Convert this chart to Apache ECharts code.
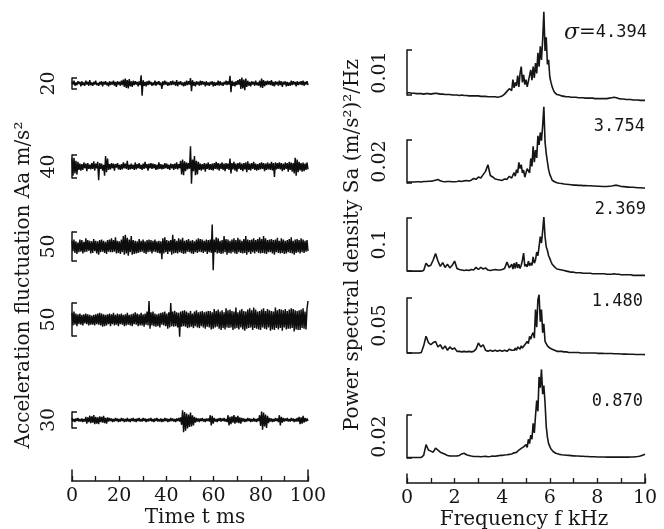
<!DOCTYPE html>
<html><head><meta charset="utf-8">
<script src="https://cdn.jsdelivr.net/npm/echarts@6/dist/echarts.min.js"></script>
<style>html,body{margin:0;padding:0;background:#fff}#c{width:664px;height:529px}</style>
</head><body><div id="c"></div>
<script>
// ---- Left: acceleration fluctuation traces (m/s^2), 240 samples over 0..100 ms ----
const acc1=[3,-2,5,-4,2,-3,4,-1,3,-5,
4,-3,2,-4,5,-2,3,-4,6,-3,
2,-4,3,-2,5,-3,1,-4,3,-2,
4,-5,3,-2,4,-3,2,-5,4,-3,
3,-2,5,-4,3,-6,4,-2,3,-4,
5,-3,7,-6,9,-8,6,-9,8,-5,
4,-6,5,-3,4,-2,3,-5,4,-3,
15,-22,6,-4,3,-5,4,-3,5,-2,
3,-4,2,-3,5,-4,3,-2,4,-3,
2,-10,4,-3,5,-2,3,-4,2,-3,
4,-3,5,-2,3,-4,6,-5,3,-2,
4,-3,2,-5,3,-4,5,-3,4,-2,
10,-14,6,-4,3,-5,4,-2,3,-4,
5,-3,4,-2,3,-5,4,-3,2,-4,
3,-2,4,-5,3,-4,2,-3,5,-4,
4,-3,2,-4,3,-2,5,-3,4,-2,
14,-16,5,-4,3,-5,4,-3,6,-2,
8,-10,11,-9,7,-12,9,-6,5,-4,
3,-5,4,-2,3,-4,5,-3,2,-4,
5,-7,9,-8,6,-5,4,-3,5,-2,
4,-3,6,-4,3,-5,4,-2,3,-4,
5,-3,4,-6,3,-2,4,-5,3,-4,
2,-4,5,-3,4,-2,3,-5,4,-3,
3,-2,4,-3,5,-4,3,-2,4,-3];
const acc2=[14,-16,15,-12,10,-14,8,-6,5,-7,
4,-6,7,-3,5,-8,6,-4,3,-5,
6,-4,9,-7,5,-3,8,-24,6,-4,
5,-7,3,-16,18,-10,14,-6,4,-5,
6,-3,5,-7,4,-2,6,-5,3,-6,
4,-5,7,-3,5,-4,10,-6,3,-5,
5,-4,3,-6,7,-5,4,-3,6,-4,
3,-6,5,-4,8,-3,4,-7,5,-3,
6,-4,5,-3,4,-6,3,-5,7,-4,
4,-5,3,-4,6,-3,5,-4,3,-6,
5,-3,4,-6,5,-4,7,-5,4,-3,
10,-14,12,-15,9,-8,7,-5,6,-4,
35,-30,12,-8,18,-15,10,-14,8,-6,
5,-7,4,-5,6,-9,5,-4,7,-6,
4,-6,5,-7,6,-4,8,-5,6,-7,
5,-4,7,-6,5,-8,6,-4,5,-6,
14,-12,6,-5,8,-7,5,-9,6,-4,
7,-6,5,-8,6,-5,7,-10,9,-6,
5,-7,6,-4,8,-6,5,-7,4,-6,
6,-5,7,-4,6,-8,5,-6,7,-5,
5,-6,8,-7,6,-18,7,-5,6,-4,
7,-5,6,-8,5,-6,7,-4,6,-9,
8,-6,7,-9,6,-12,15,-16,12,-10,
8,-7,6,-9,7,-8,5,-6,7,-5];
const acc3=[10,-8,12,-11,9,-13,7,-10,12,-9,
11,-12,8,-10,14,-9,11,-7,10,-12,
9,-11,13,-8,10,-12,9,-14,11,-10,
12,-9,10,-11,8,-13,11,-9,12,-10,
14,-10,11,-9,16,-12,10,-11,9,-13,
12,-10,18,-14,20,-12,15,-16,12,-10,
18,-14,11,-13,10,-12,9,-11,13,-10,
10,-9,12,-11,9,-13,11,-10,12,-9,
11,-12,10,-9,12,-10,9,-11,10,-12,
9,-22,14,-12,16,-10,11,-13,10,-9,
11,-14,20,-12,13,-11,10,-12,14,-10,
12,-11,15,-13,10,-12,11,-9,13,-10,
10,-12,11,-13,9,-10,12,-11,14,-9,
13,-10,12,-11,10,-9,12,-13,11,-10,
12,-11,38,-41,12,-10,16,-12,14,-11,
10,-13,11,-12,18,-10,13,-14,12,-11,
10,-12,12,-10,14,-12,11,-13,15,-10,
12,-11,10,-12,13,-11,18,-14,12,-10,
11,-13,12,-10,14,-12,11,-9,13,-11,
16,-12,13,-11,18,-12,14,-13,11,-10,
12,-10,13,-12,11,-14,12,-10,15,-11,
10,-12,14,-11,12,-13,10,-12,11,-10,
13,-11,16,-12,10,-14,12,-11,13,-10,
11,-12,14,-10,12,-11,10,-9,11,-8];
const acc4=[10,-9,12,-8,9,-10,8,-7,9,-8,
7,-9,8,-6,9,-7,8,-9,7,-8,
6,-8,7,-9,8,-7,9,-8,10,-9,
9,-11,8,-10,7,-9,8,-7,9,-10,
8,-7,10,-9,7,-8,9,-10,8,-7,
9,-8,7,-10,8,-9,10,-8,7,-9,
8,-10,9,-7,11,-8,9,-10,8,-9,
10,-9,8,-11,9,-8,12,-9,28,-14,
11,-9,12,-10,9,-11,8,-10,9,-12,
10,-8,11,-9,12,-10,9,-14,11,-12,
25,-10,12,-11,13,-10,11,-12,10,-26,
12,-11,13,-10,14,-11,12,-13,10,-12,
13,-11,9,-13,12,-10,14,-12,11,-13,
12,-10,13,-12,11,-14,12,-11,13,-12,
13,-15,11,-14,16,-12,13,-11,15,-14,
12,-16,14,-13,11,-15,17,-12,14,-13,
15,-12,13,-16,12,-14,18,-13,11,-15,
14,-12,16,-15,13,-17,12,-14,15,-13,
17,-12,14,-16,18,-13,15,-14,12,-15,
13,-16,15,-12,17,-14,13,-15,16,-12,
14,-17,13,-15,12,-16,18,-13,14,-15,
16,-13,15,-17,14,-12,16,-15,13,-14,
15,-14,17,-13,16,-18,14,-15,13,-16,
14,-16,15,-13,17,-14,12,-15,16,28];
const acc5=[4,-3,2,-4,3,-2,4,-3,2,-3,
3,-4,2,-3,6,-7,5,-4,8,-6,
7,-5,9,-8,6,-7,5,-8,7,-4,
6,-5,8,-6,4,-7,5,-3,4,-2,
3,-4,2,-3,4,-2,3,-4,2,-3,
4,-2,3,-4,2,-3,4,-3,2,-4,
3,-2,4,-3,2,-4,3,-2,4,-3,
2,-3,4,-2,3,-4,2,-3,3,-2,
4,-3,2,-4,3,-2,4,-3,2,-3,
3,-4,2,-3,4,-2,3,-4,2,-3,
4,-2,3,-3,2,-4,3,-2,4,-3,
5,-9,18,-23,15,-20,12,-16,10,-13,
14,-12,9,-10,6,-5,4,-3,3,-4,
3,-2,4,-3,2,-4,3,-2,3,-3,
9,-10,8,-7,4,-3,2,-4,3,-2,
4,-3,3,-2,4,-3,2,-4,9,-10,
6,-8,7,-5,9,-7,6,-5,8,-6,
5,-7,4,-3,3,-4,2,-3,4,-2,
3,-4,2,-3,4,-3,2,-4,3,-2,
9,-11,16,-18,14,-12,10,-15,8,-6,
4,-3,3,-4,2,-3,4,-2,3,-4,
9,-10,6,-5,4,-3,3,-2,4,-3,
2,-3,4,-2,3,-4,2,-3,4,-3,
6,-8,5,-7,8,-5,4,-3,3,-2];
const accScaleValues=[20,40,50,50,30];
const accScaleLabels=['20','40','50','50','30'];
const timeTickLabels=[0,20,40,60,80,100];

// ---- Right: power spectral density, in 10^-3 (m/s^2)^2/Hz ----
const freqKHz=[0,0.1,0.2,0.3,0.4,0.5,0.6,0.7,0.8,0.9,
1,1.1,1.2,1.3,1.4,1.5,1.6,1.7,1.8,1.9,
2,2.1,2.2,2.3,2.4,2.5,2.6,2.7,2.8,2.9,
3,3.1,3.2,3.3,3.4,3.5,3.6,3.7,3.8,3.9,
4,4.1,4.2,4.3,4.4,
4.45,4.5,4.55,4.6,4.65,4.7,4.75,4.8,4.85,4.9,
4.95,5,5.05,5.1,5.15,5.2,5.25,5.3,5.35,5.4,
5.45,5.5,5.55,5.6,5.65,5.7,5.75,5.8,5.85,5.9,
5.95,6,6.05,6.1,6.15,6.2,6.25,6.3,
6.4,6.5,6.6,6.7,6.8,6.9,7,7.1,7.2,7.3,
7.4,7.5,7.6,7.7,7.8,7.9,8,8.1,8.2,8.3,
8.4,8.5,8.6,8.7,8.8,8.9,9,9.1,9.2,9.3,
9.4,9.5,9.6,9.7,9.8,9.9,10];
const psd1=[1.7,1.7,1.6,1.6,1.5,1.5,1.5,1.4,1.5,1.5,
1.4,1.5,1.6,1.5,1.4,1.4,1.3,1.3,1.3,1.2,
1.2,1.2,1.1,1.2,1.1,1.1,1.0,1.0,1.0,1.0,
1.0,0.9,0.9,0.9,0.8,0.8,0.8,0.8,0.7,0.8,
1.0,1.4,2.0,2.6,2.2,
4.6,2.8,4.0,3.2,5.5,3.0,6.0,7.5,4.0,5.7,
3.5,4.6,3.0,3.4,5.5,6.8,4.5,7.5,5.0,8.3,
6.0,10.6,7.5,12.0,9.0,13.4,19.7,11.0,14.0,8.0,
9.0,5.2,4.0,3.0,2.3,1.8,1.5,1.3,
1.2,1.0,0.9,0.8,0.8,0.7,0.7,0.7,0.6,0.6,
0.6,0.5,0.5,0.5,0.5,0.4,0.4,0.4,0.4,0.4,
0.4,0.5,0.6,0.7,0.6,0.4,0.3,0.3,0.2,0.2,
0.2,0.1,0.1,0.1,0.0,0.0,0.0];
const psd2=[2.6,2.7,2.8,2.8,2.9,2.9,2.8,3.0,3.0,3.1,
3.1,3.3,3.6,3.9,3.3,3.0,2.9,3.0,3.0,2.9,
2.9,3.0,3.2,3.0,3.3,3.5,3.2,3.6,4.4,4.0,
5.1,4.6,6.2,7.7,10.8,5.8,5.1,4.2,3.9,3.7,
3.5,4.2,4.0,5.4,4.6,
6.0,7.1,5.5,8.5,7.0,11.9,9.0,10.8,7.0,8.3,
5.0,5.4,9.0,9.9,7.0,13.7,10.0,19.4,12.0,17.6,
14.0,24.2,20.0,25.8,22.0,28.9,37.7,21.4,16.0,12.1,
8.5,6.3,5.0,3.6,3.2,2.9,2.6,2.4,
2.2,2.1,1.8,1.7,1.6,1.5,1.3,1.3,1.2,1.2,
1.1,1.1,1.0,1.0,0.9,0.9,0.8,0.8,0.7,0.7,
0.7,0.8,0.9,1.1,1.3,1.0,0.7,0.6,0.5,0.4,
0.3,0.3,0.2,0.1,0.1,0.0,0.0];
const psd3=[9,9,9,9,9,9,9,10,24,18,
20,30,42,28,18,25,16,22,15,20,
28,14,12,11,10,11,10,12,11,16,
12,16,13,15,11,10,11,12,11,11,
12,14,26,15,22,
13,24,14,26,15,22,14,20,30,43,
18,22,17,28,19,24,20,36,24,30,
45,38,55,74,62,85,111,74,55,48,
38,33,27,22,20,17,15,13,
12,11,10,9,8,7,7,6,6,6,
5,5,5,5,4,4,4,4,4,4,
3,3,3,4,3,3,2,2,2,2,
2,1,1,1,1,1,1];
const psd4=[1.5,1.5,1.5,1.5,1.5,1.5,2,8,16.7,11,
9,11,12,7,9,5,8,4,7,5,
6,3,3,2.5,3,2.5,3,2.5,3,5,
10.6,7,9,4,3,4,3,4,3,4,
3,4,3,5,4,
5,4,6,4,7,8,5,8,6,7,
9,8,12,10,16.7,14,18,20,15,41,
25,50,54.5,30,41,20,28,12,10,8,
7,6,5,5,4,4,3.5,3,
3,3,2.5,2.5,2,2,2,2,2,1.5,
1.5,1.5,1.5,1.5,1.5,1.5,1.2,1.2,1.2,1.0,
1,1,1,0.8,0.8,0.8,0.6,0.5,0.5,0.4,
0.3,0.3,0.2,0.2,0.1,0.1,0];
const psd5=[0.5,0.5,0.5,0.5,0.5,0.5,0.6,1.5,6.5,4.0,
3.5,3.0,4.9,4.0,3.0,2.5,2.0,1.5,1.3,1.2,
1.2,1.3,1.5,2.2,2.5,1.8,1.5,1.2,1.0,1.0,
1.0,0.9,1.0,1.1,0.9,1.0,1.2,1.1,1.3,1.5,
1.5,1.7,1.8,2.0,2.2,
2.5,2.7,3.2,2.9,3.6,4.0,3.6,4.8,4.2,5.5,
4.8,6.5,5.2,9.0,7.0,11.0,9.0,16.4,12.0,20.0,
27.0,22.0,38.0,33.0,41.5,30.0,34.0,26.0,15.0,10.0,
7.0,5.7,4.5,3.8,3.2,2.8,2.5,2.2,
2.0,1.8,1.7,1.6,1.5,1.4,1.3,1.2,1.2,1.1,
1.1,1.0,1.0,0.9,0.9,0.9,0.8,0.8,0.8,0.8,
0.7,0.7,0.7,0.7,0.7,0.7,0.7,0.7,0.7,0.7,
0.8,0.8,0.9,1.0,1.2,1.6,2.0];
// scale bars of the spectra (bottom of bar, length of bar), in 10^-3 units
const psdBarBase=[1.2,2.3,9.2,1.5,0.3];
const psdBarLength=[10,20,100,50,20];
const psdScaleLabels=['0.01','0.02','0.1','0.05','0.02'];
const sigmaValues=['4.394','3.754','2.369','1.480','0.870'];
const freqTickLabels=[0,2,4,6,8,10];

// ---- layout ----
const INK='#161616';
const leftBoxes=[{top:78,h:11},{top:155,h:23},{top:232,h:29},{top:303,h:33},{top:412,h:16}];
const rightBoxes=[{top:50,h:45},{top:140,h:43},{top:218,h:53},{top:298,h:55},{top:415,h:43}];
const sigmaPos=[{x:647,y:33},{x:645,y:127},{x:646,y:210},{x:643,y:302},{x:643,y:402}];

const timeMs=acc1.map((_,i)=>i*100/(acc1.length-1));
const accData=[acc1,acc2,acc3,acc4,acc5];
const psdData=[psd1,psd2,psd3,psd4,psd5];

const grids=[],xAxes=[],yAxes=[],series=[];
const barLabelStyle={fontFamily:'DejaVu Serif',fontSize:19,color:INK};

function bracketAxis(gi,min,max,offset,label){
  return {gridIndex:gi,type:'value',min:min,max:max,offset:offset,
    axisLine:{show:true,lineStyle:{color:INK,width:1.5}},
    axisTick:{show:true,inside:true,length:5,customValues:[min,max],lineStyle:{color:INK,width:1.5}},
    axisLabel:{show:false},splitLine:{show:false},
    name:label,nameLocation:'middle',nameRotate:90,nameGap:3,nameTextStyle:barLabelStyle};
}

accData.forEach((d,k)=>{
  grids.push({left:72,width:236,top:leftBoxes[k].top,height:leftBoxes[k].h});
  const gi=grids.length-1;
  xAxes.push({gridIndex:gi,type:'value',min:0,max:100,show:false});
  const half=accScaleValues[k]/2;
  yAxes.push(bracketAxis(gi,-half,half,10,accScaleLabels[k]));
  series.push({type:'line',xAxisIndex:xAxes.length-1,yAxisIndex:yAxes.length-1,
    data:timeMs.map((t,i)=>[t,d[i]]),symbol:'none',showSymbol:false,clip:false,
    lineStyle:{color:'#0d0d0d',width:1.45},animation:false});
});

psdData.forEach((d,k)=>{
  grids.push({left:407,width:238,top:rightBoxes[k].top,height:rightBoxes[k].h});
  const gi=grids.length-1;
  xAxes.push({gridIndex:gi,type:'value',min:0,max:10,show:false});
  yAxes.push(bracketAxis(gi,psdBarBase[k],psdBarBase[k]+psdBarLength[k],14,psdScaleLabels[k]));
  series.push({type:'line',xAxisIndex:xAxes.length-1,yAxisIndex:yAxes.length-1,
    data:freqKHz.map((f,i)=>[f,d[i]]),symbol:'none',showSymbol:false,clip:false,
    lineStyle:{color:INK,width:1.6},animation:false});
});

function bottomAxis(left,width,top,height,max,interval,labels){
  grids.push({left:left,width:width,top:top,height:height});
  const gi=grids.length-1;
  xAxes.push({gridIndex:gi,type:'value',min:0,max:max,interval:interval,
    axisLine:{show:true,onZero:false,lineStyle:{color:INK,width:1.5}},
    axisTick:{show:true,inside:true,length:5,lineStyle:{color:INK,width:1.3}},
    axisLabel:{margin:6,fontFamily:'DejaVu Serif',fontSize:19,color:INK,
      formatter:v=>labels.indexOf(v)>=0?String(v):''},
    splitLine:{show:false}});
  ['left','right'].forEach(p=>yAxes.push({gridIndex:gi,type:'value',min:0,max:1,position:p,
    axisLine:{show:true,lineStyle:{color:INK,width:1.5}},axisTick:{show:false},
    axisLabel:{show:false},splitLine:{show:false}}));
}
bottomAxis(72,236,470,11,100,10,timeTickLabels);
bottomAxis(407,238,474,9,10,1,freqTickLabels);

const titleFont='20px "DejaVu Serif"';
const graphic=[
  {type:'text',x:24,y:285,rotation:Math.PI/2,style:{text:'Acceleration fluctuation Aa m/s²',x:0,y:0,align:'center',verticalAlign:'middle',font:titleFont,fill:INK}},
  {type:'text',x:353,y:245,rotation:Math.PI/2,style:{text:'Power spectral density Sa (m/s²)²/Hz',x:0,y:0,align:'center',verticalAlign:'middle',font:titleFont,fill:INK}},
  {type:'text',x:195,y:518,style:{text:'Time t ms',x:0,y:0,align:'center',verticalAlign:'middle',font:titleFont,fill:INK}},
  {type:'text',x:524,y:520,style:{text:'Frequency f kHz',x:0,y:0,align:'center',verticalAlign:'middle',font:titleFont,fill:INK}}
];
sigmaValues.forEach((s,k)=>{
  const txt=k===0?'{s|σ}{e|=}{n|'+s+'}':'{n|'+s+'}';
  graphic.push({type:'text',x:sigmaPos[k].x,y:sigmaPos[k].y,style:{text:txt,x:0,y:0,align:'right',verticalAlign:'middle',fill:INK,
    rich:{s:{font:'italic 22px "DejaVu Serif"',fill:INK},e:{font:'20px "DejaVu Serif"',fill:INK},n:{font:'17px "DejaVu Sans Mono"',fill:INK}}}});
});

const chart=echarts.init(document.getElementById('c'),null,{renderer:'canvas'});
chart.setOption({backgroundColor:'#ffffff',animation:false,grid:grids,xAxis:xAxes,yAxis:yAxes,series:series,graphic:graphic});
</script></body></html>
